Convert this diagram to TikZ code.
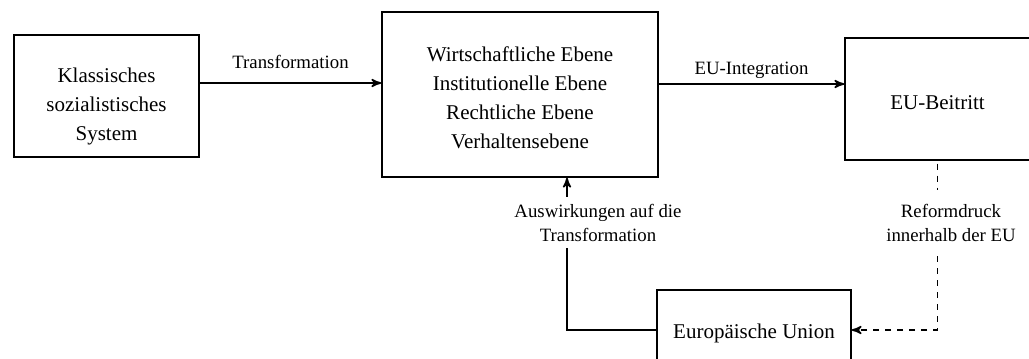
\documentclass[tikz,border=0pt]{standalone}
\usepackage{fontspec}
\setmainfont{Liberation Serif}
\usetikzlibrary{positioning}
\usetikzlibrary{arrows}
\usetikzlibrary{calc}
\tikzstyle{arrow}=[->,>=stealth',line width=0.8pt]
\tikzstyle{box}=[draw,line width=0.7pt,inner sep=0pt]
\tikzstyle{txt}=[align=center,font=\fontsize{10.5}{14.5}\selectfont]
\tikzstyle{lbl}=[align=center,font=\fontsize{9.4}{12}\selectfont]

\begin{document}
\begin{tikzpicture}[x=0.5pt,y=-0.5pt]
		\useasboundingbox (0,0) rectangle (1029,359);
		% boxes
		\node[box,minimum width=92.5pt,minimum height=61pt,
			label={[txt,yshift=-5pt]center:Klassisches\\sozialistisches\\System}] (sys) at (106.5,96) {};
		\node[box,minimum width=138pt,minimum height=82.5pt,
			label={[txt,yshift=-1.75pt]center:Wirtschaftliche Ebene\\Institutionelle Ebene\\Rechtliche Ebene\\Verhaltensebene}] (lev) at (520,94.5) {};
		\node[box,minimum width=92.5pt,minimum height=61pt,
			label={[txt,yshift=-1.8pt]center:EU-Beitritt}] (eu) at (937.5,99) {};
		\node[box,minimum width=97pt,minimum height=43pt,
			label={[txt]center:Europäische Union}] (union) at (754,333) {};
		% labels
		\node[lbl] (aus) at (598,222.5) {Auswirkungen auf die\\Transformation};
		\node[lbl,outer sep=4pt] (ref) at (951,223) {Reformdruck\\innerhalb der EU};
		\coordinate (fb) at ([xshift=23.5pt]lev.south);
		% connectors
		\draw[arrow] ([yshift=6.5pt]sys.east)--([yshift=6.5pt]sys.east -| lev.west)
			node[midway,above=3.4pt,lbl]{Transformation};
		\draw[arrow] ([yshift=5.25pt]lev.east)--([yshift=5.25pt]lev.east -| eu.west)
			node[midway,above=-1pt,lbl]{EU-Integration};
		\draw[arrow] (aus.north -| fb)--(lev.south -| fb);
		\draw[line width=0.7pt] (aus.south -| fb) |- ([yshift=1.5pt]union.west);
		\draw[dashed,line width=0.7pt] ([yshift=-1.5pt]eu.south)--(ref.north -| eu.south);
		\draw[arrow,dashed] (ref.south -| eu.south) |- ([yshift=1.5pt]union.east);
	\end{tikzpicture}
\end{document}
